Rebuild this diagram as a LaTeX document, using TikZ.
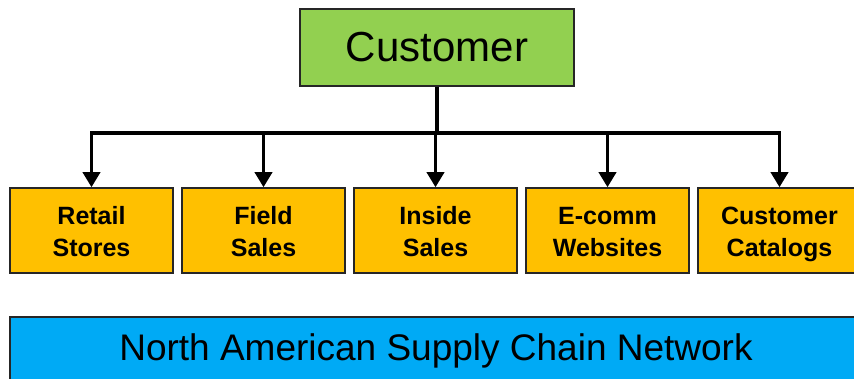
\documentclass[tikz,border=0pt]{standalone}
\usepackage{fontspec}
\setmainfont{Liberation Sans}
\usetikzlibrary{arrows.meta}
\definecolor{custgreen}{RGB}{146,208,80}
\definecolor{chanorange}{RGB}{255,192,0}
\definecolor{netblue}{RGB}{0,170,245}
\newcommand{\chantext}[2]{\rule{0pt}{26pt}#1\\#2\vphantom{g}}
\tikzset{
	box/.style={draw=black!85, line width=1.5pt, inner sep=0pt},
	chanbox/.style={box, fill=chanorange, minimum width=163pt, minimum height=85pt,
		align=center, font=\bfseries\fontsize{25}{32}\selectfont},
	feed/.style={line width=3.5pt, -{Triangle[length=15pt, width=17pt]}},
}
\begin{document}
\begin{tikzpicture}[x=1pt, y=-1pt]
	\clip (0, 0) rectangle (854, 379);
	\node[box, fill=custgreen, minimum width=274pt, minimum height=77pt, font=\fontsize{42}{50}\selectfont] (cust) at (437, 47.5) {Customer};
	\node[chanbox] (ret) at (91.5, 230.5) {\chantext{Retail}{Stores}};
	\node[chanbox] (fld) at (263.5, 230.5) {\chantext{Field}{Sales}};
	\node[chanbox] (ins) at (435.5, 230.5) {\chantext{Inside}{Sales}};
	\node[chanbox] (ecom) at (607.5, 230.5) {\chantext{E-comm}{Websites}};
	\node[chanbox] (cat) at (779.5, 230.5) {\chantext{Customer}{Catalogs}};
	\node[box, fill=netblue, minimum width=852pt, minimum height=67pt, font=\fontsize{37}{44}\selectfont] (net) at (436, 350.5) {North American Supply Chain Network};
	% bus from the customer down to the channels
	\coordinate (bus) at (437, 133);
	\draw[line width=3.5pt] (cust.south) -- (bus);
	\draw[line width=3.5pt, line cap=rect] (ret.north |- bus) -- (cat.north |- bus);
	\foreach \ch in {ret, fld, ins, ecom, cat}
		\draw[feed] (\ch.north |- bus) -- (\ch.north);
\end{tikzpicture}
\end{document}
